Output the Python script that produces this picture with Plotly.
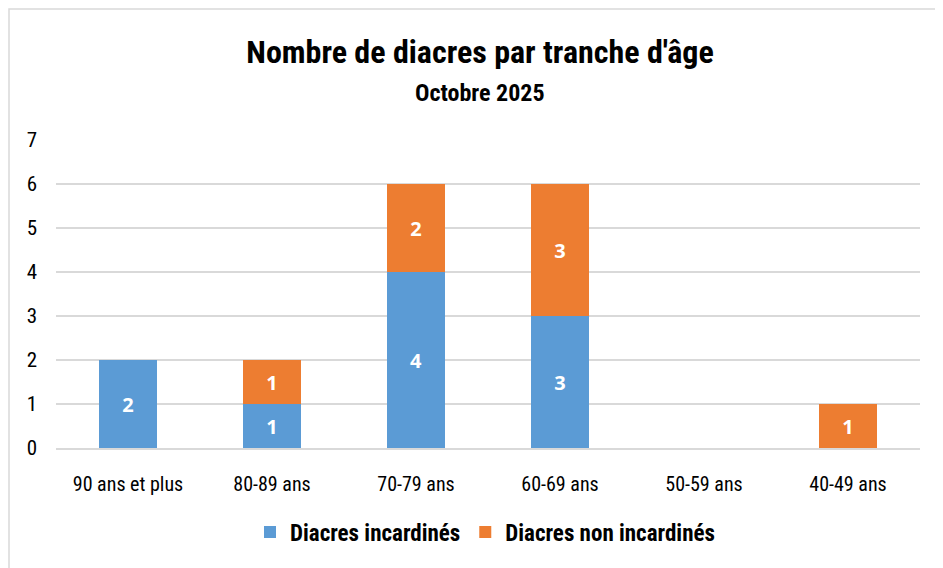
import plotly.graph_objects as go

categories = ["90 ans et plus", "80-89 ans", "70-79 ans", "60-69 ans", "50-59 ans", "40-49 ans"]
incardines = [2, 1, 4, 3, 0, 0]
non_incardines = [0, 1, 2, 3, 0, 1]
series_names = ["Diacres incardinés", "Diacres non incardinés"]
title_text = "Nombre de diacres par tranche d'âge"
subtitle_text = "Octobre 2025"
y_ticks = [0, 1, 2, 3, 4, 5, 6, 7]

FONT = "Roboto Condensed, Open Sans Condensed, sans-serif"
LABEL_FONT = "Open Sans, DejaVu Sans, sans-serif"

# page body has an 8px margin: figure pixels = screen pixels - 8
W, H = 943, 568
ML, MR, MT, MB = 48, 31, 132, 128
PW, PH = W - ML - MR, H - MT - MB


def labels(vals):
    return [str(v) if v else "" for v in vals]


fig = go.Figure()
for name, vals, color in [(series_names[0], incardines, "#5B9BD5"),
                          (series_names[1], non_incardines, "#ED7D31")]:
    fig.add_trace(go.Bar(
        x=categories, y=vals, name=name, marker=dict(color=color, line=dict(width=0)),
        text=labels(vals), textposition="inside", insidetextanchor="middle",
        textfont=dict(color="white", size=20, family=LABEL_FONT, weight="bold"),
        textangle=0, hoverinfo="skip",
    ))

fig.update_layout(
    width=W, height=H,
    barmode="stack", bargap=0.6,
    plot_bgcolor="white", paper_bgcolor="white",
    margin=dict(l=ML, r=MR, t=MT, b=MB),
    font=dict(family=FONT, color="#000000", size=20),
    title=dict(text="<b>" + title_text + "</b>", x=472 / W, xanchor="center",
               y=1 - 44 / H, yanchor="middle", yref="container",
               font=dict(size=32, family=FONT, color="#000000")),
    annotations=[dict(text="<b>" + subtitle_text + "</b>", x=(472 - ML) / PW, xref="paper",
                      y=(MT + PH - 85) / PH, yref="paper",
                      showarrow=False, xanchor="center", yanchor="middle",
                      font=dict(size=24, family=FONT, color="#000000"))],
    legend=dict(orientation="h", x=(477 - ML) / PW, xanchor="center",
                y=(MT + PH - 524) / PH, yanchor="middle",
                font=dict(size=23, family=FONT, weight="bold"), traceorder="normal",
                itemsizing="constant"),
    shapes=[dict(type="rect", xref="paper", yref="paper",
                 x0=(1 - ML) / PW, x1=1 + (MR + 20) / PW,
                 y0=-(MB + 20) / PH, y1=1 + (MT - 1) / PH,
                 line=dict(color="#d9d9d9", width=1.5))],
)
fig.update_yaxes(range=[0, 7], tickvals=y_ticks, showgrid=True, gridcolor="#d9d9d9",
                 gridwidth=1.5, zeroline=False, showline=False, ticks="",
                 ticklabelstandoff=18, tickfont=dict(size=21))
fig.update_xaxes(showline=True, linecolor="#d9d9d9", linewidth=1.5, ticks="",
                 ticklabelstandoff=17, tickfont=dict(size=20))
fig.write_html("out.html")
